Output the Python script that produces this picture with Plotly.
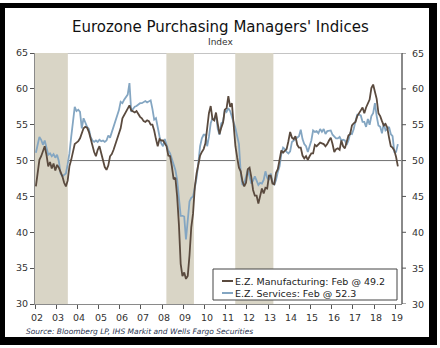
import plotly.graph_objects as go

# Eurozone PMI, monthly Jan 2002 - Feb 2019
manufacturing = [
    46.4, 48.5, 50.1, 50.6, 51.3, 52.0, 50.8, 49.2, 49.8, 48.9, 49.6, 48.6,  # 2002
    49.4, 49.0, 48.4, 47.8, 46.9, 46.4, 47.2, 49.2, 50.1, 51.3, 52.3, 52.5,  # 2003
    52.7, 53.1, 53.9, 54.5, 54.7, 54.6, 54.0, 53.1, 52.0, 51.2, 50.6, 51.5,  # 2004
    52.0, 51.0, 49.8, 49.1, 48.7, 49.3, 50.6, 50.9, 51.5, 52.2, 52.9, 53.6,  # 2005
    54.5, 55.9, 56.3, 56.8, 57.2, 57.7, 57.0, 56.8, 56.7, 56.9, 56.5, 56.1,  # 2006
    55.9, 55.5, 55.4, 55.6, 55.5, 55.0, 55.0, 54.2, 53.0, 52.0, 53.0, 52.8,  # 2007
    52.8, 52.3, 52.0, 50.7, 50.6, 49.2, 47.4, 47.6, 45.0, 41.1, 35.6, 33.9,  # 2008
    34.4, 33.5, 33.9, 36.8, 40.7, 42.6, 46.3, 48.2, 49.3, 50.7, 51.2, 51.6,  # 2009
    52.4, 54.2, 56.6, 57.6, 55.8, 55.6, 56.7, 55.1, 53.7, 54.6, 55.3, 57.1,  # 2010
    57.3, 59.0, 57.5, 58.0, 54.6, 52.0, 50.4, 49.0, 48.5, 47.1, 46.4, 46.9,  # 2011
    48.8, 49.0, 47.7, 45.9, 45.1, 45.1, 44.0, 45.1, 46.1, 45.4, 46.2, 46.1,  # 2012
    47.9, 47.9, 46.8, 46.7, 48.3, 48.8, 50.3, 51.4, 51.1, 51.3, 51.6, 52.7,  # 2013
    54.0, 53.2, 53.0, 53.4, 52.2, 51.8, 51.8, 50.7, 50.3, 50.6, 50.1, 50.6,  # 2014
    51.0, 51.0, 52.2, 52.0, 52.2, 52.5, 52.4, 52.3, 52.0, 52.3, 52.8, 53.2,  # 2015
    52.3, 51.2, 51.6, 51.7, 51.5, 52.8, 52.0, 51.7, 52.6, 53.5, 53.7, 54.9,  # 2016
    55.2, 55.4, 56.2, 56.7, 57.0, 57.4, 56.6, 57.4, 58.1, 58.5, 60.1, 60.6,  # 2017
    59.6, 58.6, 56.6, 56.2, 55.5, 54.9, 55.1, 54.6, 53.2, 52.0, 51.8, 51.4,  # 2018
    50.5, 49.2,                                                              # 2019
]

services = [
    51.1, 52.4, 53.3, 52.9, 52.2, 52.8, 51.6, 50.8, 51.0, 50.6, 50.9, 50.4,  # 2002
    50.8, 49.9, 48.2, 47.8, 48.0, 48.2, 49.5, 51.0, 53.3, 55.5, 57.5, 56.9,  # 2003
    57.1, 56.8, 54.5, 55.9, 55.2, 54.7, 54.4, 53.3, 52.8, 52.6, 52.8, 52.6,  # 2004
    52.9, 52.7, 52.8, 52.6, 52.8, 53.5, 53.2, 54.0, 54.7, 55.3, 56.1, 57.0,  # 2005
    58.2, 58.0, 58.5, 58.9, 59.2, 60.8, 56.8, 57.2, 57.5, 57.6, 57.8, 58.0,  # 2006
    58.0, 58.1, 58.3, 58.1, 58.2, 58.4, 57.2, 55.7, 55.9, 54.5, 53.4, 52.4,  # 2007
    52.0, 53.0, 52.0, 51.4, 51.0, 50.1, 49.4, 48.7, 47.3, 44.8, 42.3, 42.3,  # 2008
    42.2, 39.0, 41.8, 44.3, 44.8, 45.0, 46.2, 47.6, 49.6, 52.0, 53.1, 53.6,  # 2009
    53.6, 52.0, 53.3, 55.2, 55.9, 55.7, 56.4, 54.4, 53.6, 55.2, 55.4, 57.1,  # 2010
    56.8, 57.3, 56.9, 55.9, 55.3, 54.5, 53.2, 52.3, 48.3, 46.6, 46.8, 47.9,  # 2011
    48.7, 47.8, 46.8, 47.2, 47.8, 47.2, 46.6, 46.9, 46.8, 47.3, 48.5, 47.6,  # 2012
    47.3, 48.2, 47.0, 46.6, 47.3, 48.4, 49.2, 50.9, 51.8, 51.6, 51.2, 51.0,  # 2013
    51.3, 52.6, 52.8, 53.1, 53.3, 53.4, 54.3, 53.0, 52.3, 52.0, 51.2, 52.0,  # 2014
    52.8, 54.2, 54.0, 54.1, 53.8, 54.4, 54.0, 54.4, 53.7, 54.1, 54.2, 54.2,  # 2015
    53.6, 53.3, 53.1, 53.1, 53.3, 52.8, 52.9, 52.8, 52.2, 52.8, 53.8, 53.7,  # 2016
    54.4, 55.5, 56.4, 56.4, 56.3, 55.4, 55.4, 54.7, 55.8, 55.0, 56.2, 56.6,  # 2017
    58.0, 56.2, 54.9, 54.7, 53.8, 55.2, 54.2, 54.4, 54.7, 53.7, 53.4, 51.2,  # 2018
    51.2, 52.3,                                                              # 2019
]

# Shaded periods (decimal years)
shade_start = [2002.0, 2008.2, 2011.45]
shade_end = [2003.55, 2009.5, 2013.25]

years = list(range(2002, 2020))
year_labels = [f"{y % 100:02d}" for y in years]
y_ticks = [30, 35, 40, 45, 50, 55, 60, 65]

# Decimal-year position of each monthly observation
months = [2002 + (i + 0.5) / 12 for i in range(len(manufacturing))]

MFG_COLOR = "#5a4a3e"
SVC_COLOR = "#84a6c2"
SHADE = "#d9d5c6"
AXIS = "#8a8a8a"
TXT = "#333333"

W, H = 440, 348
L, R, T, B = 35, 38, 53, 44
PW, PH = W - L - R, H - T - B
X_RANGE = [2002.0, 2019.32]


def px(X):
    return (X - L) / PW


def py(Y):
    return (H - B - Y) / PH


fig = go.Figure()

fig.add_trace(go.Scatter(x=months, y=services, mode="lines",
                         line=dict(color=SVC_COLOR, width=1.8),
                         name="E.Z. Services"))
fig.add_trace(go.Scatter(x=months, y=manufacturing, mode="lines",
                         line=dict(color=MFG_COLOR, width=1.8),
                         name="E.Z. Manufacturing"))

shapes = []
for s, e in zip(shade_start, shade_end):
    shapes.append(dict(type="rect", xref="x", yref="y", x0=s, x1=e, y0=30, y1=65,
                       fillcolor=SHADE, line=dict(width=0), layer="below"))
# 50 reference line and top border
shapes.append(dict(type="line", xref="paper", yref="y", x0=0, x1=1, y0=50, y1=50,
                   line=dict(color="#707070", width=1), layer="below"))
shapes.append(dict(type="line", xref="paper", yref="y", x0=0, x1=1, y0=65, y1=65,
                   line=dict(color=AXIS, width=1), layer="below"))
# right-hand axis line
shapes.append(dict(type="line", xref="paper", yref="y", x0=1, x1=1, y0=30, y1=65,
                   line=dict(color=AXIS, width=2), layer="above"))

# Legend box with line samples
lg_l, lg_r, lg_t, lg_b = 213, 397, 269, 300
shapes.append(dict(type="rect", xref="paper", yref="paper",
                   x0=px(lg_l), x1=px(lg_r), y0=py(lg_b), y1=py(lg_t),
                   fillcolor="white", line=dict(color="#444444", width=1)))
legend_rows = [
    (281, MFG_COLOR, f"E.Z. Manufacturing: Feb @ {manufacturing[-1]:.1f}"),
    (293, SVC_COLOR, f"E.Z. Services: Feb @ {services[-1]:.1f}"),
]
annotations = []
for yy, col, label in legend_rows:
    shapes.append(dict(type="line", xref="paper", yref="paper",
                       x0=px(222), x1=px(233), y0=py(yy), y1=py(yy),
                       line=dict(color=col, width=2)))
    annotations.append(dict(xref="paper", yref="paper", x=px(233), y=py(yy),
                            text=label, showarrow=False, xanchor="left",
                            yanchor="middle",
                            font=dict(family="DejaVu Sans", size=9.5, color="#222")))

# right-hand value labels and ticks
for v in y_ticks:
    shapes.append(dict(type="line", xref="paper", yref="y", x0=1, x1=px(W - R + 4),
                       y0=v, y1=v, line=dict(color="#555", width=1)))
    annotations.append(dict(xref="paper", yref="y", x=px(W - R + 8), y=v,
                            text=str(v), showarrow=False, xanchor="left",
                            yanchor="middle",
                            font=dict(family="DejaVu Sans", size=9.5, color=TXT)))

# year labels under the date axis
for yr, lab in zip(years, year_labels):
    annotations.append(dict(xref="x", yref="paper", x=yr, y=py(317), xshift=2,
                            text=lab, showarrow=False, xanchor="center",
                            yanchor="middle",
                            font=dict(family="DejaVu Sans", size=9.5, color=TXT)))

# Black outer frame
for x0, x1, y0, y1 in [(0, 5, 3, 345), (0, 437, 3, 8), (429, 437, 3, 345), (0, 437, 337, 345)]:
    shapes.append(dict(type="rect", xref="paper", yref="paper",
                       x0=px(x0), x1=px(x1), y0=py(y1), y1=py(y0),
                       fillcolor="black", line=dict(width=0), layer="above"))

annotations += [
    dict(xref="paper", yref="paper", x=px(220), y=py(27),
         text="Eurozone Purchasing Managers' Indices", showarrow=False,
         xanchor="center", yanchor="middle",
         font=dict(family="DejaVu Sans", size=15, color="#111")),
    dict(xref="paper", yref="paper", x=px(220), y=py(42), text="Index",
         showarrow=False, xanchor="center", yanchor="middle",
         font=dict(family="DejaVu Sans", size=9, color="#333")),
    dict(xref="paper", yref="paper", x=px(24), y=py(331),
         text="<i>Source: Bloomberg LP, IHS Markit and Wells Fargo Securities</i>",
         showarrow=False, xanchor="left", yanchor="middle",
         font=dict(family="DejaVu Sans", size=7.5, color="#2a3450")),
]

axis_font = dict(family="DejaVu Sans", size=9.5, color=TXT)

fig.update_layout(
    width=W, height=H,
    margin=dict(l=L, r=R, t=T, b=B),
    paper_bgcolor="white", plot_bgcolor="white",
    showlegend=False,
    shapes=shapes, annotations=annotations,
    xaxis=dict(range=X_RANGE, tickvals=years, showticklabels=False,
               showgrid=False, zeroline=False, showline=True,
               linecolor=AXIS, linewidth=1, ticks="outside", ticklen=4,
               tickcolor="#555"),
    yaxis=dict(range=[30, 65], tickvals=y_ticks, showgrid=False, zeroline=False,
               showline=True, linecolor=AXIS, linewidth=1, ticks="outside",
               ticklen=4, tickcolor="#555", tickfont=axis_font),
)

fig.write_html("out.html")
